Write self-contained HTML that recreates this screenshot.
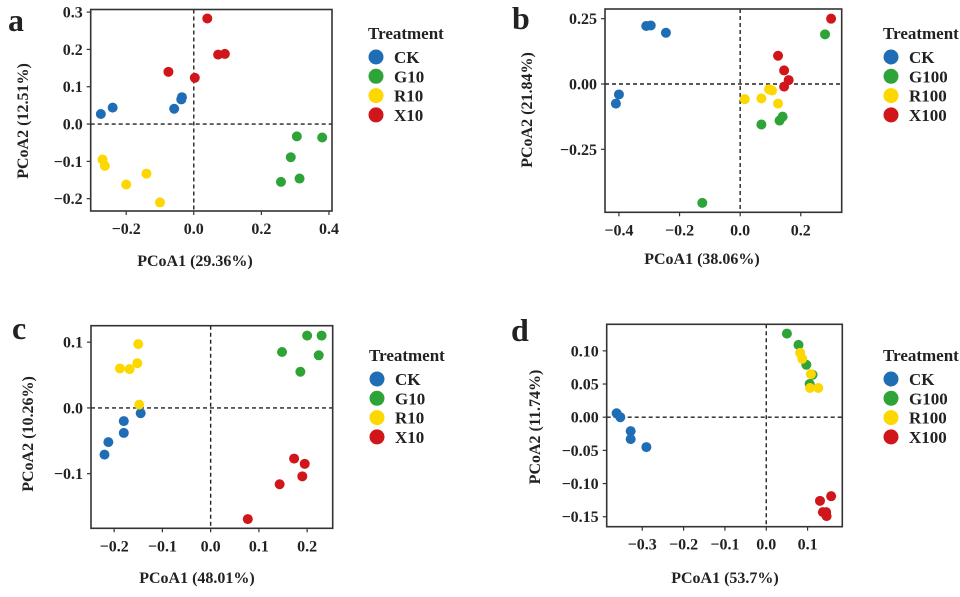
<!DOCTYPE html>
<html><head><meta charset="utf-8"><style>
body{margin:0;background:#fff;}
svg text{font-family:"Liberation Serif",serif;font-weight:bold;fill:#222;}
</style></head><body>
<svg id="fig" width="960" height="592" viewBox="0 0 960 592" xmlns="http://www.w3.org/2000/svg"></svg>
<script>
// Panel a data
const aCK=[[-0.275,0.027],[-0.24,0.044],[-0.058,0.041],[-0.037,0.066],[-0.035,0.072]];
const aG10=[[0.305,-0.033],[0.38,-0.036],[0.287,-0.089],[0.313,-0.146],[0.258,-0.155]];
const aR10=[[-0.27,-0.095],[-0.263,-0.112],[-0.2,-0.162],[-0.14,-0.133],[-0.1,-0.21]];
const aX10=[[0.04,0.283],[0.072,0.186],[0.092,0.188],[-0.075,0.14],[0.003,0.124]];
const aXTicks=[-0.2,0.0,0.2,0.4];
const aYTicks=[0.3,0.2,0.1,0.0,-0.1,-0.2];
// Panel b data
const bCK=[[-0.31,0.222],[-0.295,0.224],[-0.245,0.196],[-0.4,-0.04],[-0.41,-0.075]];
const bG100=[[0.28,0.19],[-0.125,-0.455],[0.07,-0.155],[0.13,-0.14],[0.14,-0.125]];
const bR100=[[0.015,-0.058],[0.07,-0.055],[0.095,-0.02],[0.105,-0.025],[0.125,-0.075]];
const bX100=[[0.3,0.25],[0.125,0.108],[0.145,0.052],[0.16,0.015],[0.145,-0.01]];
const bXTicks=[-0.4,-0.2,0.0,0.2];
const bYTicks=[0.25,0.0,-0.25];
// Panel c data
const cCK=[[-0.22,-0.071],[-0.212,-0.052],[-0.18,-0.02],[-0.18,-0.038],[-0.145,-0.008]];
const cG10=[[0.148,0.085],[0.2,0.11],[0.23,0.11],[0.224,0.08],[0.186,0.055]];
const cR10=[[-0.15,0.097],[-0.188,0.06],[-0.168,0.059],[-0.152,0.068],[-0.148,0.005]];
const cX10=[[0.173,-0.077],[0.195,-0.085],[0.19,-0.104],[0.143,-0.116],[0.077,-0.169]];
const cXTicks=[-0.2,-0.1,0.0,0.1,0.2];
const cYTicks=[0.1,0.0,-0.1];
// Panel d data
const dCK=[[-0.362,0.006],[-0.353,0.0],[-0.328,-0.021],[-0.328,-0.033],[-0.29,-0.045]];
const dG100=[[0.05,0.126],[0.078,0.109],[0.097,0.079],[0.112,0.064],[0.105,0.05]];
const dR100=[[0.082,0.097],[0.087,0.088],[0.108,0.065],[0.106,0.044],[0.126,0.044]];
const dX100=[[0.13,-0.126],[0.157,-0.119],[0.137,-0.143],[0.145,-0.143],[0.146,-0.149]];
const dXTicks=[-0.3,-0.2,-0.1,0.0,0.1];
const dYTicks=[0.10,0.05,0.0,-0.05,-0.10,-0.15];

const COLORS=['#1f6db5','#2ea337','#fcd800','#d0161a'];
const NS='http://www.w3.org/2000/svg';
const svg=document.getElementById('fig');
function mk(tag,attrs,parent){const e=document.createElementNS(NS,tag);for(const k in attrs)e.setAttribute(k,attrs[k]);(parent||svg).appendChild(e);return e;}
function fmt(v,d){const s=Math.abs(v).toFixed(d);return (v<0?'\u2212':'')+s;}

function panel(p){
  const g=mk('g',{});
  
  
  const sx=v=>p.L+(v-p.xd[0])/(p.xd[1]-p.xd[0])*(p.R-p.L);
  const sy=v=>p.B-(v-p.yd[0])/(p.yd[1]-p.yd[0])*(p.B-p.T);
  const hz=mk('line',{x1:p.L,x2:p.R,y1:sy(0),y2:sy(0),stroke:'#222','stroke-width':1.4,'stroke-dasharray':'4,3'},g);
  
  
  const vz=mk('line',{x1:sx(0),x2:sx(0),y1:p.T,y2:p.B,stroke:'#222','stroke-width':1.4,'stroke-dasharray':'4,3'},g);
  
  
  p.series.forEach((s,i)=>{
    s.forEach(pt=>{
      const c=mk('circle',{cx:sx(pt[0]),cy:sy(pt[1]),r:5,fill:COLORS[i]},g);
      
      
    });
  });
  const fr=mk('rect',{x:p.L,y:p.T,width:p.R-p.L,height:p.B-p.T,fill:'none',stroke:'#333','stroke-width':1.6},g);
  
  
  p.xt.forEach(v=>{
    const x=sx(v);
    mk('line',{x1:x,x2:x,y1:p.B,y2:p.B+4,stroke:'#333','stroke-width':1.2},g);
    const t=mk('text',{x:x,y:p.B+23,'text-anchor':'middle','font-size':16},g);
    t.textContent=fmt(v,1);
    
    
  });
  p.yt.forEach(v=>{
    const y=sy(v);
    mk('line',{x1:p.L-4,x2:p.L,y1:y,y2:y,stroke:'#333','stroke-width':1.2},g);
    const t=mk('text',{x:p.L-8,y:y+5.5,'text-anchor':'end','font-size':16},g);
    t.textContent=fmt(v,p.yDec);
    
    
  });
  const xt=mk('text',{x:p.xtx,y:p.xty,'text-anchor':'middle','font-size':16},g);
  xt.textContent=p.xTitle;
  
  
  const yt=mk('text',{x:0,y:0,'text-anchor':'middle','font-size':16,transform:'translate('+p.ytx+','+p.yty+') rotate(-90)'},g);
  yt.textContent=p.yTitle;
  
  
  const lt=mk('text',{x:p.lx,y:p.ly,'font-size':32},g);
  lt.textContent=p.id;
  
  
  const lg=mk('g',{},g);
  
  
  const tt=mk('text',{x:p.gx,y:p.gy,'font-size':17},lg);
  tt.textContent='Treatment';
  
  
  p.names.forEach((n,i)=>{
    const cy=p.gy+18+i*19.3;
    const c=mk('circle',{cx:p.gx+8,cy:cy,r:7.5,fill:COLORS[i]},lg);
    
    
    const t=mk('text',{x:p.gx+26,y:cy+6,'font-size':17},lg);
    t.textContent=n;
    
    
  });
}

panel({id:'a',L:90.7,R:332,T:9.5,B:211,xd:[-0.305,0.409],yd:[-0.233,0.307],xt:aXTicks,yt:aYTicks,yDec:1,
  series:[aCK,aG10,aR10,aX10],names:['CK','G10','R10','X10'],
  xTitle:'PCoA1 (29.36%)',xtx:195,yTitle:'PCoA2 (12.51%)',ytx:28,yty:121,xty:266,lx:8,ly:31,gx:368,gy:39});
panel({id:'b',L:605,R:841.7,T:9,B:212.3,xd:[-0.446,0.335],yd:[-0.491,0.287],xt:bXTicks,yt:bYTicks,yDec:2,
  series:[bCK,bG100,bR100,bX100],names:['CK','G100','R100','X100'],
  xTitle:'PCoA1 (38.06%)',xtx:702,yTitle:'PCoA2 (21.84%)',ytx:532,yty:110,xty:264,lx:512,ly:29,gx:883,gy:39});
panel({id:'c',L:91,R:332.7,T:325.7,B:528.3,xd:[-0.248,0.253],yd:[-0.183,0.125],xt:cXTicks,yt:cYTicks,yDec:1,
  series:[cCK,cG10,cR10,cX10],names:['CK','G10','R10','X10'],
  xTitle:'PCoA1 (48.01%)',xtx:197,yTitle:'PCoA2 (10.26%)',ytx:33,yty:434,xty:583,lx:12,ly:339,gx:369,gy:361});
panel({id:'d',L:606.7,R:842.3,T:324.3,B:526.7,xd:[-0.386,0.184],yd:[-0.165,0.140],xt:dXTicks,yt:dYTicks,yDec:2,
  series:[dCK,dG100,dR100,dX100],names:['CK','G100','R100','X100'],
  xTitle:'PCoA1 (53.7%)',xtx:725,yTitle:'PCoA2 (11.74%)',ytx:540,yty:427,xty:583,lx:511,ly:341,gx:883,gy:361});
</script>
</body></html>
